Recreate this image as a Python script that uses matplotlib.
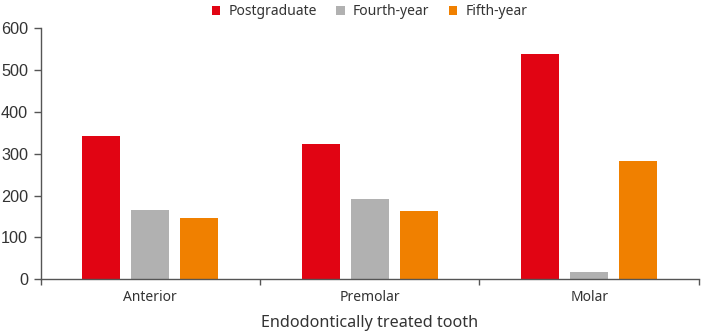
import numpy as np
import matplotlib.pyplot as plt
from matplotlib.ticker import FixedLocator

categories = ["Anterior", "Premolar", "Molar"]
series = ["Postgraduate", "Fourth-year", "Fifth-year"]
postgraduate = [343, 324, 538]
fourth_year = [165, 191, 17]
fifth_year = [146, 162, 282]
yticks = [0, 100, 200, 300, 400, 500, 600]

colors = ["#e10413", "#b1b1b1", "#f08000"]
txt = "#333333"
axc = "#555555"

fig = plt.figure(figsize=(7.01, 3.35), dpi=100)
ax = fig.add_axes([0.058, 0.1663, 0.939, 0.7502])

x = np.arange(len(categories))
w = 0.173
off = 0.223
for i, (name, vals) in enumerate(zip(series, [postgraduate, fourth_year, fifth_year])):
    ax.bar(x + (i - 1) * off, vals, width=w, color=colors[i], label=name)

ax.set_xlim(-0.5, 2.5)
ax.set_ylim(0, 600)
ax.set_yticks(yticks)
ax.set_yticklabels([str(v) for v in yticks], fontsize=11.7, color=txt,
                   family="Liberation Sans")
ax.set_xticks(x)
ax.set_xticklabels(categories, fontsize=10, color=txt, family="Noto Sans")
ax.xaxis.set_minor_locator(FixedLocator([-0.5, 0.5, 1.5, 2.5]))
ax.tick_params(axis="x", which="major", length=0, pad=8)
ax.tick_params(axis="x", which="minor", length=4.5, color=axc, width=1)
ax.tick_params(axis="y", length=5, color=axc, width=1, pad=4)

for s in ["top", "right"]:
    ax.spines[s].set_visible(False)
for s in ["left", "bottom"]:
    ax.spines[s].set_color(axc)
    ax.spines[s].set_linewidth(1)

ax.set_xlabel("Endodontically treated tooth", fontsize=11.6, color=txt,
              family="Noto Sans", labelpad=7)

leg = ax.legend(loc="center", bbox_to_anchor=(0.5, 1.065), ncol=3, frameon=False,
                handlelength=0.6, handleheight=0.6, handletextpad=0.6,
                columnspacing=1.4, prop={"family": "Noto Sans", "size": 10})
for t in leg.get_texts():
    t.set_color(txt)

fig.savefig("out.png", dpi=100)
